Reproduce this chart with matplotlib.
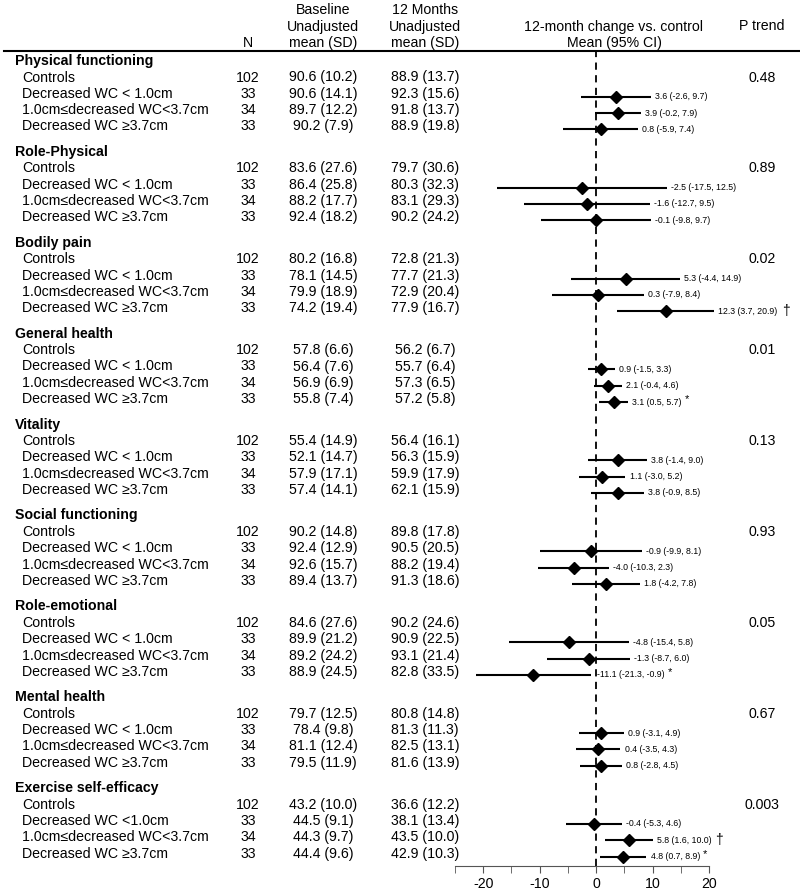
import matplotlib
matplotlib.use("Agg")
import matplotlib.pyplot as plt

plt.rcParams['font.family'] = ['Liberation Sans', 'DejaVu Sans']
plt.rcParams['axes.unicode_minus'] = False

# ---- data ----
outcomes = ["Physical functioning", "Role-Physical", "Bodily pain", "General health",
            "Vitality", "Social functioning", "Role-emotional", "Mental health",
            "Exercise self-efficacy"]
groups = ["Controls", "Decreased WC < 1.0cm", "1.0cm\u2264decreased WC<3.7cm", "Decreased WC \u22653.7cm"]
groups_ese = ["Controls", "Decreased WC <1.0cm", "1.0cm\u2264decreased WC<3.7cm", "Decreased WC \u22653.7cm"]
n_per_group = [102, 33, 34, 33]

baseline = [
    ["90.6 (10.2)", "90.6 (14.1)", "89.7 (12.2)", "90.2 (7.9)"],
    ["83.6 (27.6)", "86.4 (25.8)", "88.2 (17.7)", "92.4 (18.2)"],
    ["80.2 (16.8)", "78.1 (14.5)", "79.9 (18.9)", "74.2 (19.4)"],
    ["57.8 (6.6)", "56.4 (7.6)", "56.9 (6.9)", "55.8 (7.4)"],
    ["55.4 (14.9)", "52.1 (14.7)", "57.9 (17.1)", "57.4 (14.1)"],
    ["90.2 (14.8)", "92.4 (12.9)", "92.6 (15.7)", "89.4 (13.7)"],
    ["84.6 (27.6)", "89.9 (21.2)", "89.2 (24.2)", "88.9 (24.5)"],
    ["79.7 (12.5)", "78.4 (9.8)", "81.1 (12.4)", "79.5 (11.9)"],
    ["43.2 (10.0)", "44.5 (9.1)", "44.3 (9.7)", "44.4 (9.6)"],
]
month12 = [
    ["88.9 (13.7)", "92.3 (15.6)", "91.8 (13.7)", "88.9 (19.8)"],
    ["79.7 (30.6)", "80.3 (32.3)", "83.1 (29.3)", "90.2 (24.2)"],
    ["72.8 (21.3)", "77.7 (21.3)", "72.9 (20.4)", "77.9 (16.7)"],
    ["56.2 (6.7)", "55.7 (6.4)", "57.3 (6.5)", "57.2 (5.8)"],
    ["56.4 (16.1)", "56.3 (15.9)", "59.9 (17.9)", "62.1 (15.9)"],
    ["89.8 (17.8)", "90.5 (20.5)", "88.2 (19.4)", "91.3 (18.6)"],
    ["90.2 (24.6)", "90.9 (22.5)", "93.1 (21.4)", "82.8 (33.5)"],
    ["80.8 (14.8)", "81.3 (11.3)", "82.5 (13.1)", "81.6 (13.9)"],
    ["36.6 (12.2)", "38.1 (13.4)", "43.5 (10.0)", "42.9 (10.3)"],
]
# 12-month change vs control for the three WC groups: mean, lower, upper
change_mean = [[3.6, 3.9, 0.8], [-2.5, -1.6, -0.1], [5.3, 0.3, 12.3], [0.9, 2.1, 3.1],
               [3.8, 1.1, 3.8], [-0.9, -4.0, 1.8], [-4.8, -1.3, -11.1], [0.9, 0.4, 0.8],
               [-0.4, 5.8, 4.8]]
change_lo = [[-2.6, -0.2, -5.9], [-17.5, -12.7, -9.8], [-4.4, -7.9, 3.7], [-1.5, -0.4, 0.5],
             [-1.4, -3.0, -0.9], [-9.9, -10.3, -4.2], [-15.4, -8.7, -21.3], [-3.1, -3.5, -2.8],
             [-5.3, 1.6, 0.7]]
change_hi = [[9.7, 7.9, 7.4], [12.5, 9.5, 9.7], [14.9, 8.4, 20.9], [3.3, 4.6, 5.7],
             [9.0, 5.2, 8.5], [8.1, 2.3, 7.8], [5.8, 6.0, -0.9], [4.9, 4.3, 4.5],
             [4.6, 10.0, 8.9]]
flags = [["", "", ""], ["", "", ""], ["", "", "\u2020"], ["", "", "*"], ["", "", ""],
         ["", "", ""], ["", "", "*"], ["", "", ""], ["", "\u2020", "*"]]
p_trend = ["0.48", "0.89", "0.02", "0.01", "0.13", "0.93", "0.05", "0.67", "0.003"]

# ---- layout (pixel grid of the figure) ----
W, H = 800, 891
fig = plt.figure(figsize=(W / 100, H / 100), dpi=100)
ax = fig.add_axes([0, 0, 1, 1])
ax.set_xlim(0, W)
ax.set_ylim(H, 0)
ax.axis("off")

fs = 10.2
x_n, x_base, x_m12, x_p = 248, 323, 425, 762
axis_y, top_y = 866, 51

# header
ax.text(x_n, 43, "N", ha="center", va="center", fontsize=fs)
for i, s in enumerate(["Baseline", "Unadjusted", "mean (SD)"]):
    ax.text(x_base, 10 + 16.5 * i, s, ha="center", va="center", fontsize=fs)
for i, s in enumerate(["12 Months", "Unadjusted", "mean (SD)"]):
    ax.text(x_m12, 10 + 16.5 * i, s, ha="center", va="center", fontsize=fs)
ax.text(614, 26.5, "12-month change vs. control", ha="center", va="center", fontsize=fs)
ax.text(614, 43, "Mean (95% CI)", ha="center", va="center", fontsize=fs)
ax.text(x_p, 26.5, "P trend", ha="center", va="center", fontsize=fs)
ax.plot([4, 800], [top_y, top_y], color="black", lw=1.5)

# forest panel shares the pixel y scale
fx0, fx1 = 455, 709
fax = fig.add_axes([fx0 / W, (H - axis_y) / H, (fx1 - fx0) / W, (axis_y - top_y) / H])
fax.set_xlim(-25, 20)
fax.set_ylim(axis_y, top_y)
fax.patch.set_alpha(0)
for s in ["top", "right", "left"]:
    fax.spines[s].set_visible(False)
fax.spines["bottom"].set_color("#555555")
fax.set_yticks([])
fax.set_xticks([-20, -10, 0, 10, 20])
fax.set_xticks([-25, -15, -5, 5, 15], minor=True)
fax.tick_params(axis="x", which="both", length=5, color="#555555", labelsize=fs, pad=3)
fax.axvline(0, color="black", lw=1.3, ls=(0, (4, 3)), zorder=1)

block = 90.9
for b, name in enumerate(outcomes):
    hy = 61 + block * b
    ax.text(15, hy, name, ha="left", va="center", fontsize=fs, fontweight="bold")
    labels = groups_ese if b == len(outcomes) - 1 else groups
    for r in range(4):
        ry = hy + 16.5 + 16.3 * r
        ax.text(22, ry, labels[r], ha="left", va="center", fontsize=fs)
        ax.text(x_n, ry, str(n_per_group[r]), ha="center", va="center", fontsize=fs)
        ax.text(x_base, ry, baseline[b][r], ha="center", va="center", fontsize=fs)
        ax.text(x_m12, ry, month12[b][r], ha="center", va="center", fontsize=fs)
        if r == 0:
            ax.text(x_p, ry, p_trend[b], ha="center", va="center", fontsize=fs)
            continue
        k = r - 1
        fy = ry + 3
        m, lo, hi = change_mean[b][k], change_lo[b][k], change_hi[b][k]
        fax.plot([lo, hi], [fy, fy], color="black", lw=1.5, solid_capstyle="butt",
                 clip_on=False)
        fax.plot(m, fy, marker="D", color="black", ms=6, clip_on=False)
        lab = f"{m:.1f} ({lo:.1f}, {hi:.1f})"
        # label crossing the zero line gets a little more room
        off = 4.5 if hi < 0 and hi > -2 else 3
        t = fax.annotate(lab, xy=(hi, fy), xytext=(off, 0), textcoords="offset points",
                         ha="left", va="center", fontsize=6.3, annotation_clip=False)
        if flags[b][k] == "\u2020":
            fax.annotate("\u2020", xy=(1, 0.5), xycoords=t, xytext=(3, 0),
                         textcoords="offset points", ha="left", va="center", fontsize=10,
                         annotation_clip=False)
        elif flags[b][k] == "*":
            fax.annotate("*", xy=(1, 0.5), xycoords=t, xytext=(2, 2),
                         textcoords="offset points", ha="left", va="center", fontsize=8,
                         annotation_clip=False)

fig.savefig("out.png", dpi=100)
